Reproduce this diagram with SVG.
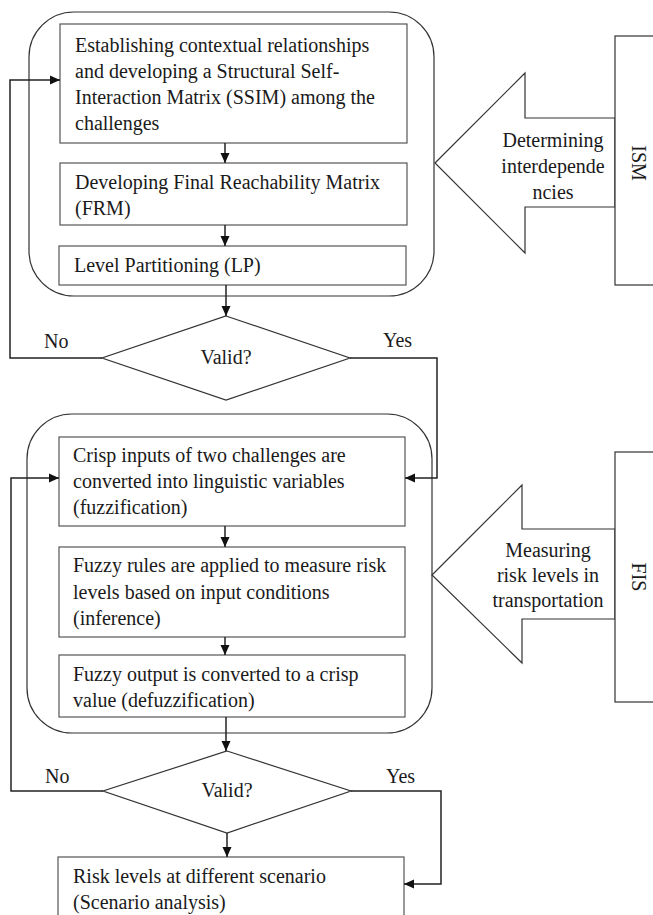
<svg xmlns="http://www.w3.org/2000/svg" width="653" height="915" viewBox="0 0 653 915">
<defs>
<style>
text{font-family:"Liberation Serif","Times New Roman",serif;font-size:20px;fill:#1a1a1a}
.box{fill:#fff;stroke:#555;stroke-width:1.2}
.frame{fill:none;stroke:#333;stroke-width:1.2}
.ln{fill:none;stroke:#222;stroke-width:1.5}
.c{text-anchor:middle}
</style>
<marker id="ah" viewBox="0 0 10 10" refX="10" refY="5" markerWidth="10" markerHeight="10" markerUnits="userSpaceOnUse" orient="auto">
<path d="M0,0.5 L10,5 L0,9.5 Z" fill="#111"/>
</marker>
</defs>
<rect width="653" height="915" fill="#fff"/>

<g id="ism-frame"><rect class="frame" x="29" y="12" width="405" height="284" rx="45" ry="45"/></g>
<g id="fis-frame"><rect class="frame" x="27" y="414" width="405" height="319" rx="45" ry="45"/></g>

<g id="ssim">
<rect class="box" x="60" y="24" width="347" height="119"/>
<text x="75" y="52">Establishing contextual relationships</text>
<text x="75" y="78">and developing a Structural Self-</text>
<text x="75" y="104">Interaction Matrix (SSIM) among the</text>
<text x="75" y="130">challenges</text>
</g>
<g id="frm">
<rect class="box" x="60" y="163" width="347" height="62"/>
<text x="75" y="189">Developing Final Reachability Matrix</text>
<text x="75" y="215">(FRM)</text>
</g>
<g id="lp">
<rect class="box" x="59" y="246" width="347" height="39"/>
<text x="74" y="272">Level Partitioning (LP)</text>
</g>
<g id="valid1">
<polygon class="box" points="226,316 350,358 226,400 102,358" style="stroke:#333"/>
<text class="c" x="226" y="364">Valid?</text>
</g>

<g id="ism-arrow">
<polygon class="frame" points="435,163 525,73 525,118 615,118 615,207 525,207 525,253" style="fill:#fff"/>
<text class="c" x="553" y="147">Determining</text>
<text class="c" x="553" y="173">interdepende</text>
<text class="c" x="553" y="199">ncies</text>
</g>
<g id="ism">
<rect class="frame" x="615" y="36" width="50" height="249" style="fill:#fff"/>
<text class="c" transform="translate(632,163) rotate(90)">ISM</text>
</g>

<g id="fuzzification">
<rect class="box" x="59" y="437" width="346" height="89"/>
<text x="73" y="462">Crisp inputs of two challenges are</text>
<text x="73" y="488">converted into linguistic variables</text>
<text x="73" y="514">(fuzzification)</text>
</g>
<g id="inference">
<rect class="box" x="59" y="547" width="346" height="90"/>
<text x="73" y="572">Fuzzy rules are applied to measure risk</text>
<text x="73" y="599">levels based on input conditions</text>
<text x="73" y="625">(inference)</text>
</g>
<g id="defuzzification">
<rect class="box" x="59" y="655" width="346" height="62"/>
<text x="73" y="681">Fuzzy output is converted to a crisp</text>
<text x="73" y="707">value (defuzzification)</text>
</g>
<g id="valid2">
<polygon class="box" points="227,751 351,791 227,833 103,791" style="stroke:#333"/>
<text class="c" x="227" y="797">Valid?</text>
</g>

<g id="fis-arrow">
<polygon class="frame" points="432,575 522,485 522,529 615,529 615,619 522,619 522,663" style="fill:#fff"/>
<text class="c" x="548" y="557">Measuring</text>
<text class="c" x="548" y="582">risk levels in</text>
<text class="c" x="548" y="607">transportation</text>
</g>
<g id="fis">
<rect class="frame" x="615" y="452" width="50" height="250" style="fill:#fff"/>
<text class="c" transform="translate(632,577) rotate(90)">FIS</text>
</g>

<g id="scenario">
<rect class="box" x="58" y="857" width="346" height="70"/>
<text x="73" y="883">Risk levels at different scenario</text>
<text x="73" y="909">(Scenario analysis)</text>
</g>

<g id="connectors">
<path class="ln" d="M225,143 V163" marker-end="url(#ah)"/>
<path class="ln" d="M225,225 V246" marker-end="url(#ah)"/>
<path class="ln" d="M226,285 V316" marker-end="url(#ah)"/>
<path class="ln" d="M102,358 H10 V80 H60" marker-end="url(#ah)"/>
<path class="ln" d="M350,358 H437 V478 H405" marker-end="url(#ah)"/>
<path class="ln" d="M225,526 V547" marker-end="url(#ah)"/>
<path class="ln" d="M225,637 V655" marker-end="url(#ah)"/>
<path class="ln" d="M226,717 V751" marker-end="url(#ah)"/>
<path class="ln" d="M103,791 H11 V478 H59" marker-end="url(#ah)"/>
<path class="ln" d="M351,791 H441 V884 H404" marker-end="url(#ah)"/>
<path class="ln" d="M227,833 V857" marker-end="url(#ah)"/>
<text x="44" y="348">No</text>
<text x="383" y="347">Yes</text>
<text x="45" y="783">No</text>
<text x="386" y="783">Yes</text>
</g>
</svg>
